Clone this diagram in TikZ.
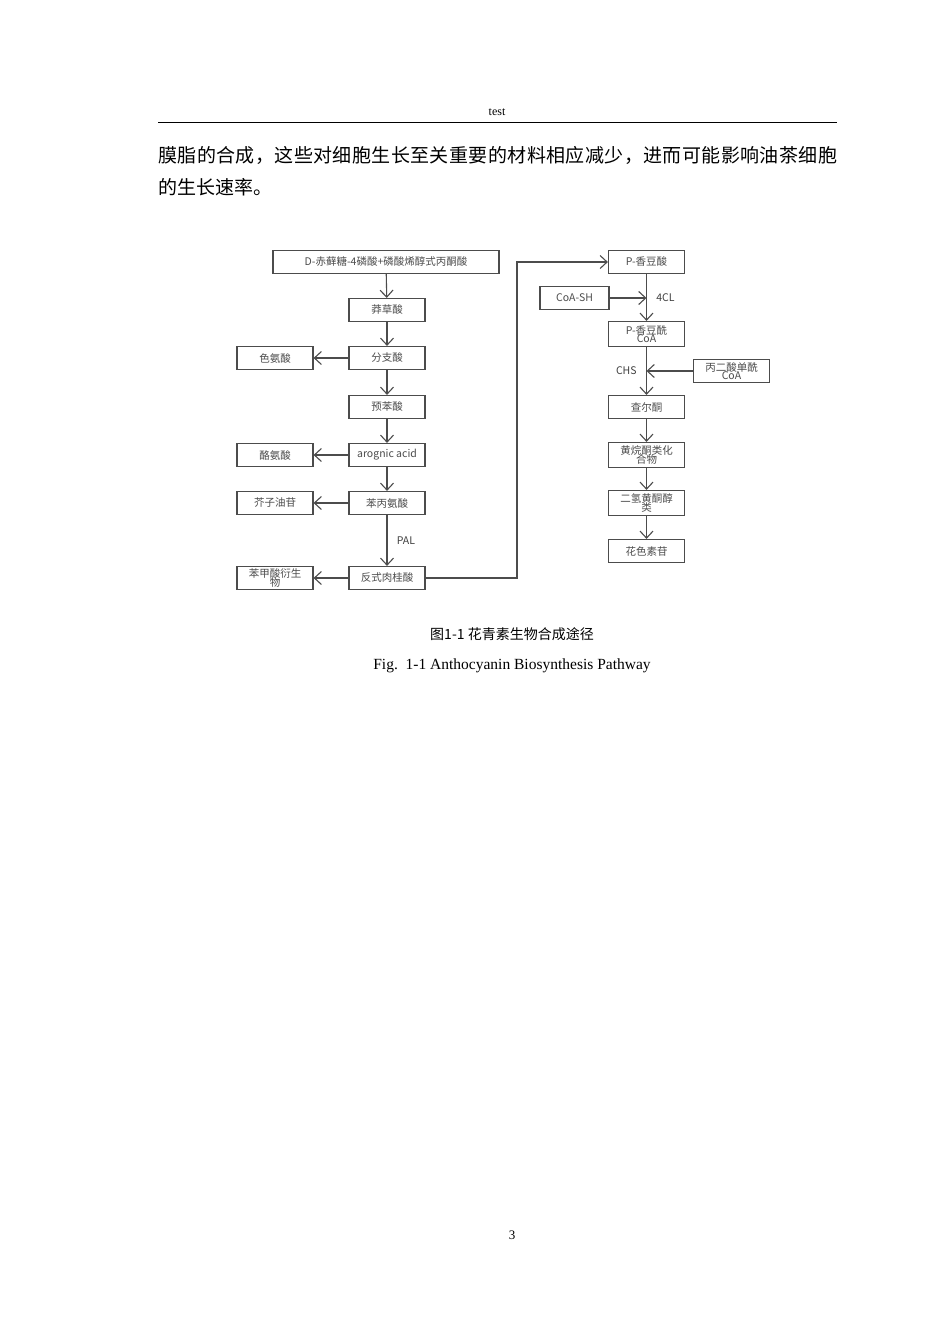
\documentclass[tikz,border=0pt]{standalone}
\usepackage{fontspec}
\setmainfont{Liberation Serif}
\newfontfamily\cjk{Noto Sans CJK SC}
\usetikzlibrary{positioning,arrows.meta}

\tikzset{
  stepbox/.style={draw=black!70,line width=1.2pt,minimum width=76pt,minimum height=23pt,inner sep=1pt,align=center,font=\cjk\fontsize{10.5}{10.5}\selectfont,text=black!70},
  flow/.style={->,line width=1.1pt,draw=black!70,>={Straight Barb[length=7pt,width=13pt]}},
  lab/.style={font=\cjk\fontsize{10.5}{12}\selectfont,text=black!75}
}

\begin{document}
\begin{tikzpicture}[x=1pt,y=-1pt]
        \useasboundingbox (0,0) rectangle (950,1344);
        \fill[white](0,0) rectangle (950,1344);

        % page head and text
        \node (head) at (497,112) {\fontsize{12}{14}\selectfont test};
        \draw[thin](158,122)--(837,122);
        \node[anchor=west,inner sep=0pt] (line1) at (158,155)
          {\cjk\fontsize{19}{22}\selectfont\hbox to 679pt{膜\hfill 脂\hfill 的\hfill 合\hfill 成\hfill ，\hfill 这\hfill 些\hfill 对\hfill 细\hfill 胞\hfill 生\hfill 长\hfill 至\hfill 关\hfill 重\hfill 要\hfill 的\hfill 材\hfill 料\hfill 相\hfill 应\hfill 减\hfill 少\hfill ，\hfill 进\hfill 而\hfill 可\hfill 能\hfill 影\hfill 响\hfill 油\hfill 茶\hfill 细\hfill 胞}};
        \node[anchor=west,inner sep=0pt] (line2) at (158,187) {\cjk\fontsize{19}{22}\selectfont 的生长速率。};

        % left column
        \node[stepbox,minimum width=226pt] (erp) at (386,262) {D-赤藓糖-4磷酸+磷酸烯醇式丙酮酸};
        \node[stepbox] (shik) at (387,310) {莽草酸};
        \node[stepbox] (chor) at (387,358) {分支酸};
        \node[stepbox] (preph) at (387,407) {预苯酸};
        \node[stepbox] (arog) at (387,455) {arognic acid};
        \node[stepbox] (phe) at (387,503) {苯丙氨酸};
        \node[stepbox] (cin) at (387,578) {反式肉桂酸};

        \node[stepbox] (trp) at (275,358) {色氨酸};
        \node[stepbox] (tyr) at (275,455) {酪氨酸};
        \node[stepbox] (glu) at (275,503) {芥子油苷};
        \node[stepbox] (benz) at (275,578) {苯甲酸衍生\\[-2pt]物};

        \draw[flow](erp)--(shik);
        \draw[flow](shik)--(chor);
        \draw[flow](chor)--(preph);
        \draw[flow](preph)--(arog);
        \draw[flow](arog)--(phe);
        \draw[flow](phe)--(cin)node[lab,midway,right=6pt]{PAL};
        \draw[flow](chor)--(trp);
        \draw[flow](arog)--(tyr);
        \draw[flow](phe)--(glu);
        \draw[flow](cin)--(benz);

        % right column
        \node[stepbox] (pcou) at (646.5,262) {P-香豆酸};
        \node[stepbox,minimum height=25pt] (pcoa) at (646.5,334) {P-香豆酰\\[-2pt]CoA};
        \node[stepbox] (chal) at (646.5,407) {查尔酮};
        \node[stepbox,minimum height=25pt] (flav) at (646.5,455) {黄烷酮类化\\[-2pt]合物};
        \node[stepbox,minimum height=25pt] (dihy) at (646.5,503) {二氢黄酮醇\\[-2pt]类};
        \node[stepbox] (anth) at (646.5,551) {花色素苷};

        \node[stepbox,minimum width=69pt] (coash) at (574.5,298) {CoA-SH};
        \node[stepbox] (malo) at (731.5,371) {丙二酸单酰\\[-2pt]CoA};
        \coordinate (j1) at (646.5,298);
        \coordinate (j2) at (646.5,371);

        \draw[flow](cin.east)-|(517,262)--(pcou.west);
        \draw[flow](pcou)--(pcoa);
        \draw[flow](coash)--(j1)node[lab,right=6pt]{4CL};
        \draw[flow](pcoa)--(chal);
        \draw[flow](malo)--(j2)node[lab,left=6pt]{CHS};
        \draw[flow](chal)--(flav);
        \draw[flow](flav)--(dihy);
        \draw[flow](dihy)--(anth);

        % captions
        \node (cap1) at (512,634) {\cjk\fontsize{14}{16}\selectfont 图1-1 花青素生物合成途径};
        \node (cap2) at (512,666) {\fontsize{15.5}{17}\selectfont Fig.\ \ 1-1 Anthocyanin Biosynthesis Pathway};
        \node (pnum) at (512,1235) {\fontsize{13}{15}\selectfont 3};
    \end{tikzpicture}
\end{document}
